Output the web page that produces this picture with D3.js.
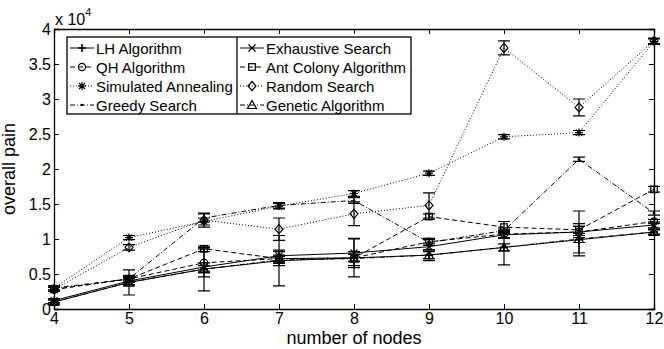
<!DOCTYPE html>
<html>
<head>
<meta charset="utf-8">
<script src="https://cdn.jsdelivr.net/npm/d3@7"></script>
<style>
  body { margin: 0; background: #fff; }
  text { font-family: "Liberation Sans", Arial, sans-serif; fill: #000; }
</style>
</head>
<body>
<div id="chart"></div>
<script>
// nodes on x axis
var nodes = [4, 5, 6, 7, 8, 9, 10, 11, 12];

// overall pain, in units of 10^4
var lhVals     = [0.10, 0.38, 0.57, 0.69, 0.73, 0.77, 0.88, 0.99, 1.10];
var qhVals     = [0.28, 0.43, 0.66, 0.72, 0.73, 0.96, 1.07, 1.10, 1.25];
var saVals     = [0.30, 1.02, 1.25, 1.47, 1.65, 1.94, 2.46, 2.52, 3.82];
var greedyVals = [0.30, 0.43, 1.30, 1.48, 1.55, 0.95, 1.12, 2.14, 1.37];
var exhVals    = [0.12, 0.40, 0.60, 0.76, 0.80, 0.89, 1.06, 1.10, 1.20];
var antVals    = [0.28, 0.43, 0.86, 0.72, 0.73, 1.32, 1.17, 1.13, 1.71];
var randVals   = [0.28, 0.88, 1.27, 1.14, 1.36, 1.48, 3.73, 2.88, 3.83];
var genVals    = [0.10, 0.38, 0.57, 0.70, 0.72, 0.77, 0.88, 1.00, 1.10];

// error bar half lengths
var lhErr     = [0.03, 0.18, 0.31, 0.36, 0.27, 0.05, 0.25, 0.23, 0.04];
var qhErr     = [0.03, 0.05, 0.20, 0.10, 0.05, 0.05, 0.05, 0.08, 0.03];
var saErr     = [0.03, 0.03, 0.05, 0.04, 0.04, 0.03, 0.03, 0.03, 0.04];
var greedyErr = [0.03, 0.03, 0.06, 0.04, 0.04, 0.04, 0.04, 0.03, 0.03];
var exhErr    = [0.03, 0.05, 0.06, 0.08, 0.21, 0.05, 0.05, 0.30, 0.04];
var antErr    = [0.03, 0.03, 0.04, 0.05, 0.05, 0.04, 0.08, 0.05, 0.04];
var randErr   = [0.03, 0.04, 0.10, 0.16, 0.17, 0.18, 0.10, 0.12, 0.04];
var genErr    = [0.03, 0.05, 0.05, 0.05, 0.10, 0.08, 0.05, 0.05, 0.03];

var names = ["LH Algorithm", "QH Algorithm", "Simulated Annealing", "Greedy Search",
             "Exhaustive Search", "Ant Colony Algorithm", "Random Search", "Genetic Algorithm"];
var yTicks = [0, 0.5, 1, 1.5, 2, 2.5, 3, 3.5, 4];

var series = [
  {name: names[0], vals: lhVals,     err: lhErr,     dash: null,      mark: "plus"},
  {name: names[1], vals: qhVals,     err: qhErr,     dash: "5,3",     mark: "circle"},
  {name: names[2], vals: saVals,     err: saErr,     dash: "1,2",     mark: "star"},
  {name: names[3], vals: greedyVals, err: greedyErr, dash: "5,2,1,2", mark: "point"},
  {name: names[4], vals: exhVals,    err: exhErr,    dash: null,      mark: "cross"},
  {name: names[5], vals: antVals,    err: antErr,    dash: "5,3",     mark: "square"},
  {name: names[6], vals: randVals,   err: randErr,   dash: "1,2",     mark: "diamond"},
  {name: names[7], vals: genVals,    err: genErr,    dash: "5,2,1,2", mark: "triangle"}
];

var W = 664, H = 349;
var pLeft = 54, pRight = 654, pTop = 29, pBottom = 309;

var svg = d3.select("#chart").append("svg")
  .attr("width", W).attr("height", H);

svg.append("rect").attr("width", W).attr("height", H).attr("fill", "#fff");

var x = d3.scaleLinear().domain([4, 12]).range([pLeft, pRight]);
var y = d3.scaleLinear().domain([0, 4]).range([pBottom, pTop]);

// axes, matlab style ticks pointing in
var fmt = function(d){ return d3.format("~g")(d); };

svg.append("g")
  .attr("transform", "translate(0," + pBottom + ")")
  .call(d3.axisBottom(x).tickValues(nodes).tickSize(-5).tickPadding(4).tickFormat(fmt))
  .call(function(g){ g.selectAll("text").style("font-size", "16px"); });

svg.append("g")
  .attr("transform", "translate(0," + pTop + ")")
  .call(d3.axisTop(x).tickValues(nodes).tickSize(-5).tickFormat(""));

svg.append("g")
  .attr("transform", "translate(" + pLeft + ",0)")
  .call(d3.axisLeft(y).tickValues(yTicks).tickSize(-5).tickPadding(3).tickFormat(fmt))
  .call(function(g){ g.selectAll("text").style("font-size", "16px"); });

svg.append("g")
  .attr("transform", "translate(" + pRight + ",0)")
  .call(d3.axisRight(y).tickValues(yTicks).tickSize(-5).tickFormat(""));

svg.selectAll(".domain").attr("stroke", "#000").attr("stroke-width", 1.3);
svg.selectAll(".tick line").attr("stroke", "#000");

// scale factor label
var sc = svg.append("text").attr("x", 55).attr("y", 25).style("font-size", "16px");
sc.append("tspan").text("x 10");
sc.append("tspan").attr("dy", -9).style("font-size", "11px").text("4");

// axis titles
svg.append("text")
  .attr("x", (pLeft + pRight) / 2).attr("y", 344)
  .attr("text-anchor", "middle").style("font-size", "18px")
  .text("number of nodes");

svg.append("text")
  .attr("transform", "translate(15," + ((pTop + pBottom) / 2) + ") rotate(-90)")
  .attr("text-anchor", "middle").style("font-size", "18px")
  .text("overall pain");

function drawMarker(g, type, cx, cy) {
  var m = g.append("g").attr("transform", "translate(" + cx + "," + cy + ")")
    .attr("stroke", "#000").attr("fill", "none").attr("stroke-width", 1.2);
  if (type === "plus") {
    m.append("path").attr("d", "M-4,0H4M0,-4V4").attr("stroke-width", 1.6);
  } else if (type === "cross") {
    m.append("path").attr("d", "M-3.5,-3.5L3.5,3.5M-3.5,3.5L3.5,-3.5");
  } else if (type === "circle") {
    m.append("circle").attr("r", 3.6);
  } else if (type === "square") {
    m.append("rect").attr("x", -3.3).attr("y", -3.3).attr("width", 6.6).attr("height", 6.6);
  } else if (type === "diamond") {
    m.append("path").attr("d", "M0,-4.5L4,0L0,4.5L-4,0Z");
  } else if (type === "triangle") {
    m.append("path").attr("d", "M0,-4.5L4.5,3.5H-4.5Z");
  } else if (type === "star") {
    m.append("path").attr("d", "M-4,0H4M0,-4V4M-3,-3L3,3M-3,3L3,-3");
  } else if (type === "point") {
    m.append("circle").attr("r", 1.3).attr("fill", "#000").attr("stroke", "none");
  }
}

var plot = svg.append("g");
var line = d3.line().x(function(d){ return x(d[0]); }).y(function(d){ return y(d[1]); });

series.forEach(function(s) {
  var pts = nodes.map(function(n, i){ return [n, s.vals[i], s.err[i]]; });
  var g = plot.append("g");

  g.append("path").datum(pts)
    .attr("d", line)
    .attr("fill", "none")
    .attr("stroke", "#000")
    .attr("stroke-width", 1)
    .attr("stroke-dasharray", s.dash);

  // error bars
  g.selectAll(".eb").data(pts).enter().append("path")
    .attr("d", function(d){
      var xc = x(d[0]), y1 = y(d[1] - d[2]), y2 = y(d[1] + d[2]);
      return "M" + xc + "," + y1 + "V" + y2 +
             "M" + (xc - 6) + "," + y1 + "H" + (xc + 6) +
             "M" + (xc - 6) + "," + y2 + "H" + (xc + 6);
    })
    .attr("stroke", "#000").attr("stroke-width", 1.2).attr("fill", "none");

  pts.forEach(function(d){ drawMarker(g, s.mark, x(d[0]), y(d[1])); });
});

// legend
var legX = 67, legY = 37, legW = 344, legH = 77, colW = 170, rowH = 19;
var leg = svg.append("g");
leg.append("rect").attr("x", legX).attr("y", legY).attr("width", legW).attr("height", legH)
  .attr("fill", "#fff").attr("stroke", "#000").attr("stroke-width", 1.3);
leg.append("line").attr("x1", legX + colW).attr("x2", legX + colW)
  .attr("y1", legY).attr("y2", legY + legH).attr("stroke", "#000").attr("stroke-width", 1.3);

series.forEach(function(s, i) {
  var col = Math.floor(i / 4), row = i % 4;
  var lx = legX + 3 + col * colW, ly = legY + 11 + row * rowH;
  leg.append("line").attr("x1", lx).attr("x2", lx + 24)
    .attr("y1", ly).attr("y2", ly)
    .attr("stroke", "#000").attr("stroke-width", 1).attr("stroke-dasharray", s.dash);
  drawMarker(leg, s.mark, lx + 12, ly);
  leg.append("text").attr("x", lx + 26).attr("y", ly + 5.5)
    .style("font-size", "15px").text(s.name);
});
</script>
</body>
</html>
